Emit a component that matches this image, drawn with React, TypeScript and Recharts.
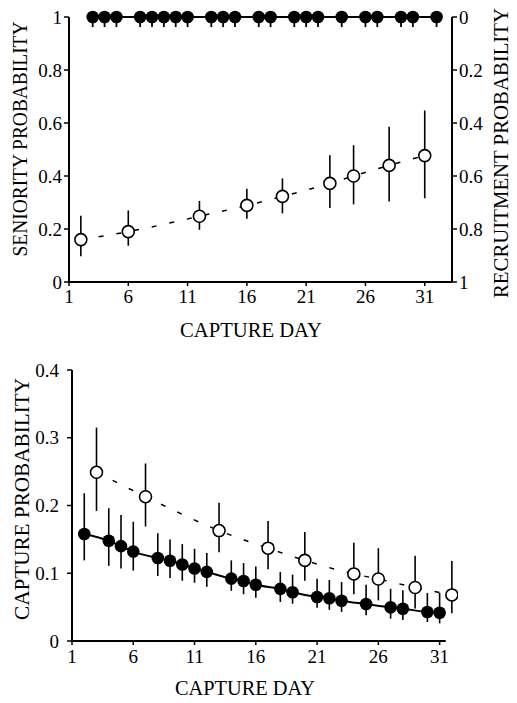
import React from 'react';
import {
  ComposedChart,
  Line,
  Scatter,
  ErrorBar,
  XAxis,
  YAxis,
  ReferenceLine,
} from 'recharts';

// top panel: seniority (open) and the days where recruitment is fixed at 0 (filled)
const seniorDays = [2, 6, 12, 16, 19, 23, 25, 28, 31];
const seniorVal = [0.16, 0.19, 0.248, 0.289, 0.323, 0.372, 0.4, 0.44, 0.477];
const seniorLo = [0.097, 0.137, 0.197, 0.239, 0.259, 0.279, 0.293, 0.304, 0.316];
const seniorHi = [0.25, 0.27, 0.306, 0.352, 0.391, 0.478, 0.516, 0.586, 0.647];

const fixedDays = [3, 4, 5, 7, 8, 9, 10, 11, 13, 14, 15, 17, 18, 20, 21, 22, 24, 26, 27, 29, 30, 32];
const fixedVal = [0, 0, 0, 0, 0, 0, 0, 0, 0, 0, 0, 0, 0, 0, 0, 0, 0, 0, 0, 0, 0, 0];
const fixedHi = [
  0.038, 0.038, 0.038, 0.038, 0.038, 0.038, 0.038, 0.038, 0.038, 0.038, 0.038,
  0.038, 0.038, 0.038, 0.038, 0.038, 0.038, 0.038, 0.038, 0.038, 0.038, 0.038,
];

// bottom panel: capture probability
const capOpenDays = [3, 7, 13, 17, 20, 24, 26, 29, 32];
const capOpenVal = [0.249, 0.213, 0.163, 0.137, 0.119, 0.099, 0.0915, 0.079, 0.068];
const capOpenLo = [0.192, 0.169, 0.131, 0.106, 0.089, 0.069, 0.06, 0.048, 0.041];
const capOpenHi = [0.315, 0.262, 0.204, 0.177, 0.161, 0.145, 0.137, 0.126, 0.118];

const capFillDays = [2, 4, 5, 6, 8, 9, 10, 11, 12, 14, 15, 16, 18, 19, 21, 22, 23, 25, 27, 28, 30, 31];
const capFillVal = [
  0.158, 0.148, 0.14, 0.132, 0.1225, 0.1185, 0.113, 0.107, 0.102, 0.092, 0.0886,
  0.083, 0.077, 0.072, 0.065, 0.063, 0.0595, 0.0546, 0.0497, 0.0477, 0.0428, 0.0418,
];
const capFillLo = [
  0.119, 0.111, 0.107, 0.104, 0.096, 0.093, 0.089, 0.086, 0.08, 0.074, 0.069,
  0.064, 0.0576, 0.055, 0.049, 0.046, 0.043, 0.038, 0.033, 0.031, 0.028, 0.026,
];
const capFillHi = [
  0.218, 0.196, 0.186, 0.176, 0.159, 0.15, 0.143, 0.136, 0.13, 0.119, 0.115,
  0.11, 0.102, 0.098, 0.092, 0.09, 0.087, 0.083, 0.077, 0.075, 0.071, 0.071,
];

const dayTicks = [1, 6, 11, 16, 21, 26, 31];
const probTicks = [0, 0.2, 0.4, 0.6, 0.8, 1];
const capTicks = [0, 0.1, 0.2, 0.3, 0.4];

const FONT = '"Liberation Serif", "Times New Roman", serif';

const build = (days: number[], val: number[], lo: number[], hi: number[]) =>
  days.map((day, i) => ({ day, v: val[i], err: [val[i] - lo[i], hi[i] - val[i]] }));

const seniorData = build(seniorDays, seniorVal, seniorLo, seniorHi);
const fixedData = build(fixedDays, fixedVal, fixedVal, fixedHi);
const capOpenData = build(capOpenDays, capOpenVal, capOpenLo, capOpenHi);
const capFillData = build(capFillDays, capFillVal, capFillLo, capFillHi);

const probFmt = (v: number) => (v === 0 || v === 1 ? String(v) : v.toFixed(1));

// tick text drawn by hand so the serif face and size stick
const Tick = (props: any) => {
  const { x, y, payload, textAnchor, vertical } = props;
  return (
    <text
      x={x}
      y={y}
      dy={vertical ? '0.35em' : '0.72em'}
      textAnchor={textAnchor}
      fontSize={19}
      fontFamily={FONT}
      fill="#000"
    >
      {vertical ? probFmt(payload.value) : String(payload.value)}
    </text>
  );
};

const OpenDot = (p: any) => (
  <circle cx={p.cx} cy={p.cy} r={6} fill="#fff" stroke="#000" strokeWidth={1.6} />
);
const FilledDot = (p: any) => <circle cx={p.cx} cy={p.cy} r={6.3} fill="#000" />;

// axis titles, squeezed to the width they have in the scan
const Title = ({ x, y, len, text, rotate }: { x: number; y: number; len: number; text: string; rotate?: boolean }) => (
  <text
    x={x}
    y={y}
    textAnchor="middle"
    dominantBaseline="central"
    transform={rotate ? `rotate(-90 ${x} ${y})` : undefined}
    textLength={len}
    lengthAdjust="spacingAndGlyphs"
    fontSize={21}
    fontFamily={FONT}
    fill="#000"
  >
    {text}
  </text>
);

const axisLine = { stroke: '#000', strokeWidth: 2 };
const tickLine = { stroke: '#000', strokeWidth: 1.5 };

export default function App() {
  return (
    <div style={{ position: 'fixed', left: 0, top: 0, width: 517, height: 703, background: '#fff', fontFamily: FONT }}>
      <div style={{ position: 'absolute', left: 0, top: 0 }}>
        <ComposedChart width={517} height={345} margin={{ top: 17, right: 0, bottom: 0, left: 0 }}>
          <XAxis
            type="number"
            dataKey="day"
            domain={[1, 33.3]}
            ticks={dayTicks}
            allowDataOverflow
            height={63}
            tick={<Tick />}
            tickSize={4}
            tickMargin={3}
            axisLine={axisLine}
            tickLine={tickLine}
            label={{ content: () => <Title x={251} y={330} len={142} text="CAPTURE DAY" /> }}
          />
          <YAxis
            yAxisId="left"
            type="number"
            domain={[0, 1]}
            ticks={probTicks}
            width={69}
            tick={<Tick vertical />}
            tickSize={5}
            tickMargin={2}
            axisLine={axisLine}
            tickLine={tickLine}
            label={{ content: () => <Title x={20} y={139} len={235} text="SENIORITY PROBABILITY" rotate /> }}
          />
          <YAxis
            yAxisId="right"
            orientation="right"
            type="number"
            domain={[0, 1]}
            reversed
            ticks={probTicks}
            width={65}
            tick={<Tick vertical />}
            tickSize={5}
            tickMargin={2}
            axisLine={axisLine}
            tickLine={tickLine}
            label={{ content: () => <Title x={501} y={153} len={290} text="RECRUITMENT PROBABILITY" rotate /> }}
          />
          <Line
            yAxisId="right"
            data={fixedData}
            dataKey="v"
            type="linear"
            stroke="#000"
            strokeWidth={2}
            dot={false}
            isAnimationActive={false}
          />
          <Line
            yAxisId="left"
            data={seniorData}
            dataKey="v"
            type="monotone"
            stroke="#000"
            strokeWidth={1.5}
            strokeDasharray="5 13"
            dot={false}
            isAnimationActive={false}
          />
          <Scatter yAxisId="right" data={fixedData} dataKey="v" shape={FilledDot} isAnimationActive={false}>
            <ErrorBar dataKey="err" direction="y" width={0} stroke="#000" strokeWidth={1.8} />
          </Scatter>
          <Scatter yAxisId="left" data={seniorData} dataKey="v" shape={OpenDot} isAnimationActive={false}>
            <ErrorBar dataKey="err" direction="y" width={0} stroke="#000" strokeWidth={1.6} />
          </Scatter>
        </ComposedChart>
      </div>

      <div style={{ position: 'absolute', left: 0, top: 350 }}>
        <ComposedChart width={517} height={353} margin={{ top: 20, right: 59, bottom: 0, left: 0 }}>
          <XAxis
            type="number"
            dataKey="day"
            domain={[1, 32.5]}
            ticks={dayTicks}
            allowDataOverflow
            height={62}
            tick={<Tick />}
            tickSize={4}
            tickMargin={4}
            axisLine={false}
            tickLine={tickLine}
            label={{ content: () => <Title x={245} y={337.5} len={140} text="CAPTURE DAY" /> }}
          />
          <YAxis
            type="number"
            domain={[0, 0.4]}
            ticks={capTicks}
            width={72}
            tick={<Tick vertical />}
            tickSize={5}
            tickMargin={8}
            axisLine={axisLine}
            tickLine={tickLine}
            label={{ content: () => <Title x={22} y={149} len={242} text="CAPTURE PROBABILITY" rotate /> }}
          />
          <ReferenceLine segment={[{ x: 1, y: 0 }, { x: 31.5, y: 0 }]} stroke="#000" strokeWidth={2} />
          <Line
            data={capOpenData}
            dataKey="v"
            type="monotone"
            stroke="#000"
            strokeWidth={1.5}
            strokeDasharray="5 13"
            dot={false}
            isAnimationActive={false}
          />
          <Line
            data={capFillData}
            dataKey="v"
            type="monotone"
            stroke="#000"
            strokeWidth={2}
            dot={false}
            isAnimationActive={false}
          />
          <Scatter data={capFillData} dataKey="v" shape={FilledDot} isAnimationActive={false}>
            <ErrorBar dataKey="err" direction="y" width={0} stroke="#000" strokeWidth={1.6} />
          </Scatter>
          <Scatter data={capOpenData} dataKey="v" shape={OpenDot} isAnimationActive={false}>
            <ErrorBar dataKey="err" direction="y" width={0} stroke="#000" strokeWidth={1.6} />
          </Scatter>
        </ComposedChart>
      </div>
    </div>
  );
}
